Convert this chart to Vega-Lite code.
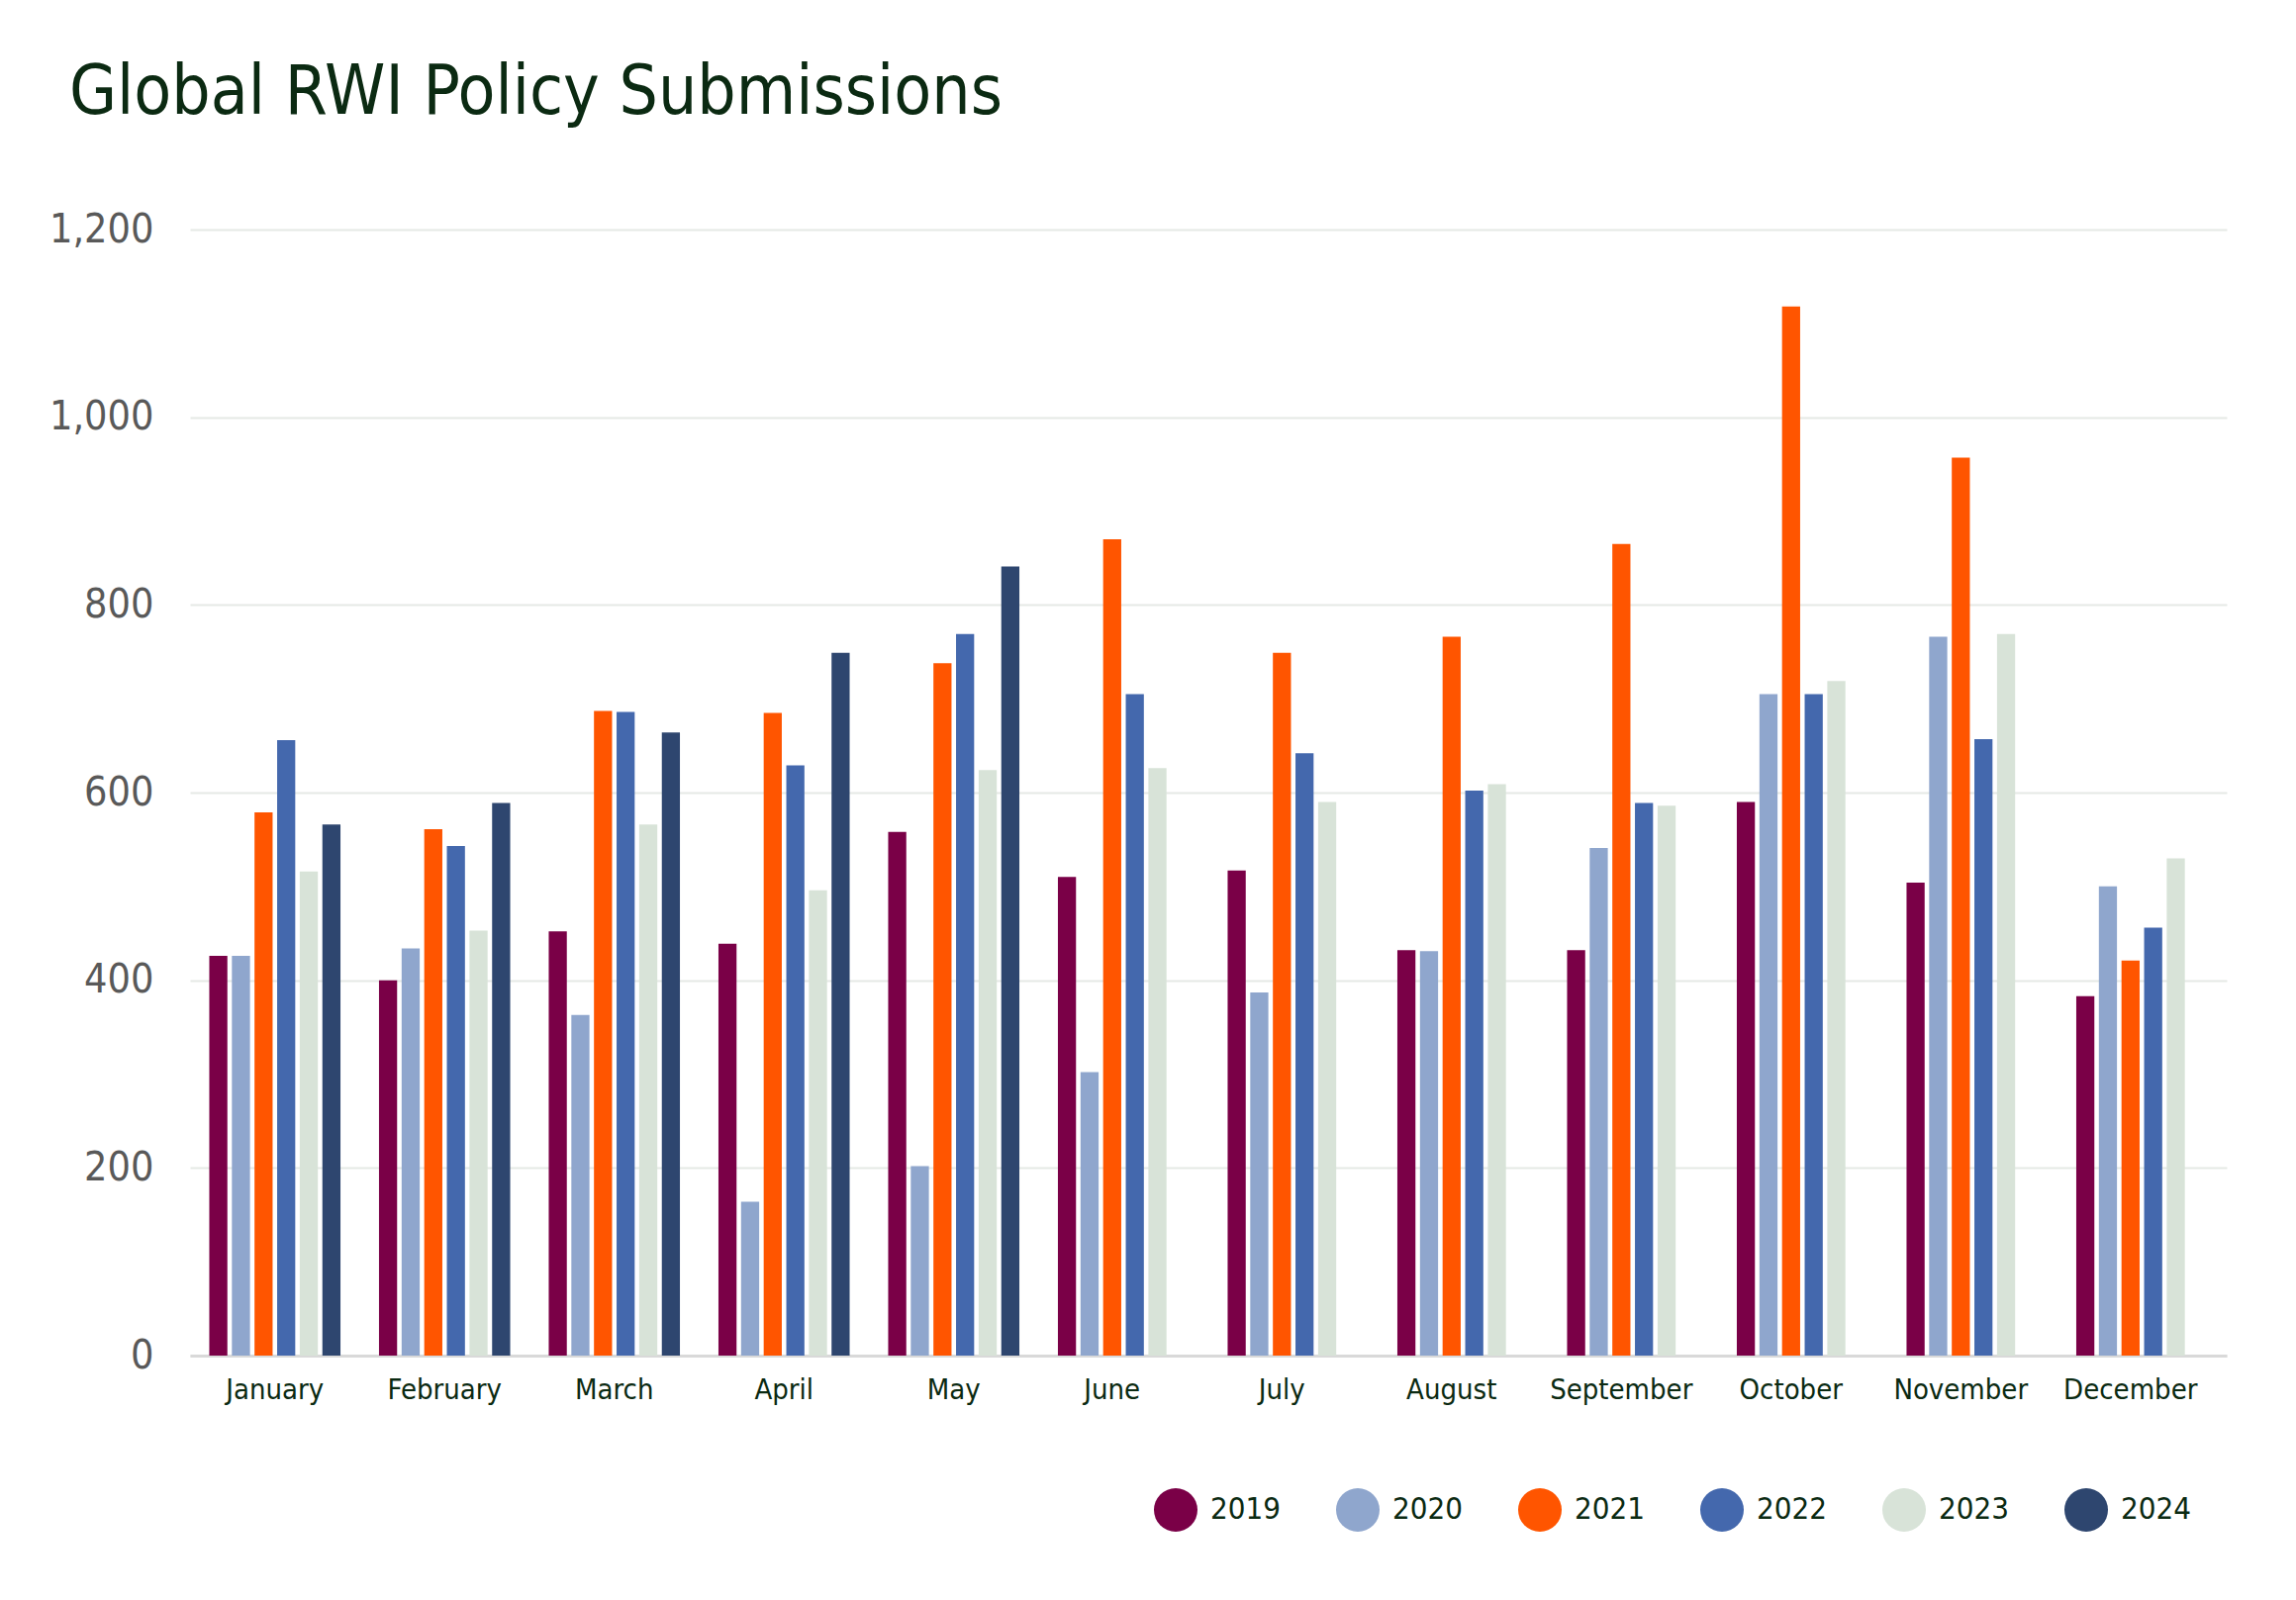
{
  "$schema": "https://vega.github.io/schema/vega-lite/v6.json",
  "autosize": {"type": "none"},
  "width": 2058,
  "height": 1138,
  "padding": {"left": 192, "top": 232, "right": 70, "bottom": 247},
  "background": "white",
  "title": {
    "text": "Global RWI Policy Submissions",
    "anchor": "start",
    "frame": "group",
    "dx": -122,
    "offset": 27,
    "baseline": "alphabetic",
    "font": "DejaVu Sans Condensed, Liberation Sans Narrow, sans-serif",
    "fontSize": 69,
    "fontWeight": "normal",
    "color": "#0b2a12"
  },
  "config": {
    "view": {"stroke": null},
    "font": "DejaVu Sans Condensed, Liberation Sans Narrow, sans-serif"
  },
  "data": {
    "values": [
      {"month": "January", "year": "2019", "value": 426},
      {"month": "January", "year": "2020", "value": 426},
      {"month": "January", "year": "2021", "value": 579},
      {"month": "January", "year": "2022", "value": 656},
      {"month": "January", "year": "2023", "value": 516},
      {"month": "January", "year": "2024", "value": 566},
      {"month": "February", "year": "2019", "value": 400},
      {"month": "February", "year": "2020", "value": 434},
      {"month": "February", "year": "2021", "value": 561},
      {"month": "February", "year": "2022", "value": 543},
      {"month": "February", "year": "2023", "value": 453},
      {"month": "February", "year": "2024", "value": 589},
      {"month": "March", "year": "2019", "value": 452},
      {"month": "March", "year": "2020", "value": 363},
      {"month": "March", "year": "2021", "value": 687},
      {"month": "March", "year": "2022", "value": 686},
      {"month": "March", "year": "2023", "value": 566},
      {"month": "March", "year": "2024", "value": 664},
      {"month": "April", "year": "2019", "value": 439},
      {"month": "April", "year": "2020", "value": 164},
      {"month": "April", "year": "2021", "value": 685},
      {"month": "April", "year": "2022", "value": 629},
      {"month": "April", "year": "2023", "value": 496},
      {"month": "April", "year": "2024", "value": 749},
      {"month": "May", "year": "2019", "value": 558},
      {"month": "May", "year": "2020", "value": 202},
      {"month": "May", "year": "2021", "value": 738},
      {"month": "May", "year": "2022", "value": 769},
      {"month": "May", "year": "2023", "value": 624},
      {"month": "May", "year": "2024", "value": 841},
      {"month": "June", "year": "2019", "value": 510},
      {"month": "June", "year": "2020", "value": 302},
      {"month": "June", "year": "2021", "value": 870},
      {"month": "June", "year": "2022", "value": 705},
      {"month": "June", "year": "2023", "value": 626},
      {"month": "July", "year": "2019", "value": 517},
      {"month": "July", "year": "2020", "value": 387},
      {"month": "July", "year": "2021", "value": 749},
      {"month": "July", "year": "2022", "value": 642},
      {"month": "July", "year": "2023", "value": 590},
      {"month": "August", "year": "2019", "value": 432},
      {"month": "August", "year": "2020", "value": 431},
      {"month": "August", "year": "2021", "value": 766},
      {"month": "August", "year": "2022", "value": 602},
      {"month": "August", "year": "2023", "value": 609},
      {"month": "September", "year": "2019", "value": 432},
      {"month": "September", "year": "2020", "value": 541},
      {"month": "September", "year": "2021", "value": 865},
      {"month": "September", "year": "2022", "value": 589},
      {"month": "September", "year": "2023", "value": 586},
      {"month": "October", "year": "2019", "value": 590},
      {"month": "October", "year": "2020", "value": 705},
      {"month": "October", "year": "2021", "value": 1118},
      {"month": "October", "year": "2022", "value": 705},
      {"month": "October", "year": "2023", "value": 719},
      {"month": "November", "year": "2019", "value": 504},
      {"month": "November", "year": "2020", "value": 766},
      {"month": "November", "year": "2021", "value": 957},
      {"month": "November", "year": "2022", "value": 657},
      {"month": "November", "year": "2023", "value": 769},
      {"month": "December", "year": "2019", "value": 383},
      {"month": "December", "year": "2020", "value": 500},
      {"month": "December", "year": "2021", "value": 421},
      {"month": "December", "year": "2022", "value": 456},
      {"month": "December", "year": "2023", "value": 530}
    ]
  },
  "mark": "bar",
  "encoding": {
    "x": {
      "field": "month",
      "type": "nominal",
      "title": null,
      "scale": {
        "domain": ["January", "February", "March", "April", "May", "June", "July", "August", "September", "October", "November", "December"],
        "paddingInner": 0.227,
        "paddingOuter": 0.1135
      },
      "axis": {
        "labelAngle": 0,
        "labelFontSize": 29,
        "labelColor": "#0b2a12",
        "labelPadding": 20,
        "labelOffset": {
          "condition": {"test": "indexof(['January','February','March','April','May'], datum.value) < 0", "value": -11.5},
          "value": 0
        },
        "ticks": false,
        "domainColor": "#d9d9d9",
        "domainWidth": 3
      }
    },
    "xOffset": {
      "field": "year",
      "type": "nominal",
      "scale": {"domain": ["2019", "2020", "2021", "2022", "2023", "2024"], "paddingInner": 0.2, "paddingOuter": 0}
    },
    "y": {
      "field": "value",
      "type": "quantitative",
      "title": null,
      "scale": {"domain": [0, 1200]},
      "axis": {
        "values": [0, 200, 400, 600, 800, 1000, 1200],
        "format": ",d",
        "labelFontSize": 41,
        "labelColor": "#595959",
        "labelPadding": 37,
        "ticks": false,
        "domain": false,
        "gridColor": "#e5e9e5",
        "gridWidth": 2
      }
    },
    "color": {
      "field": "year",
      "type": "nominal",
      "scale": {
        "domain": ["2019", "2020", "2021", "2022", "2023", "2024"],
        "range": ["#7a0047", "#8fa6cd", "#ff5500", "#4468ad", "#d8e3d8", "#2e466f"]
      },
      "legend": {
        "title": null,
        "orient": "none",
        "direction": "horizontal",
        "legendX": 974,
        "legendY": 1272,
        "padding": 0,
        "symbolType": "circle",
        "symbolSize": 1936,
        "symbolStrokeWidth": 0,
        "labelFontSize": 31,
        "labelColor": "#0b2a12",
        "labelOffset": 13,
        "columnPadding": 56
      }
    }
  }
}
